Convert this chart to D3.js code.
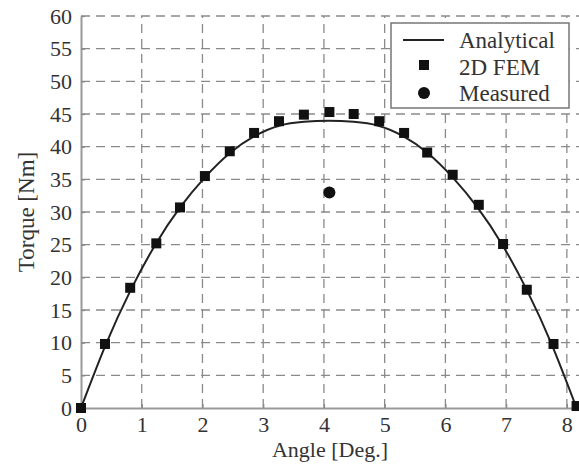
<!DOCTYPE html>
<html>
<head>
<meta charset="utf-8">
<script src="https://cdn.jsdelivr.net/npm/d3@7"></script>
<style>
    body { margin: 0; background: #fff; }
    text { font-family: "Liberation Serif", "Times New Roman", serif; fill: #333; }
</style>
</head>
<body>
<svg id="chart" width="579" height="464"></svg>
<script>
'use strict';

// tick values
const xTicks = [0, 1, 2, 3, 4, 5, 6, 7, 8];
const yTicks = [0, 5, 10, 15, 20, 25, 30, 35, 40, 45, 50, 55, 60];

// analytical curve
const angleAnalytical = [0, 0.408, 0.816, 1.224, 1.632, 2.04, 2.448, 2.856, 3.264, 3.672, 4.08,
    4.488, 4.896, 5.304, 5.712, 6.12, 6.528, 6.936, 7.344, 7.752, 8.16];
const torqueAnalytical = [0, 9.7, 18.0, 25.0, 30.7, 35.3, 39.0, 41.6, 43.2, 43.8, 43.95,
    43.8, 43.2, 41.6, 39.0, 35.3, 30.7, 25.0, 18.0, 9.7, 0];

// 2D FEM squares
const angleFem = [0, 0.395, 0.81, 1.24, 1.63, 2.04, 2.45, 2.85, 3.26, 3.67, 4.09,
    4.49, 4.91, 5.32, 5.70, 6.12, 6.55, 6.95, 7.34, 7.78, 8.16];
const torqueFem = [0, 9.8, 18.4, 25.2, 30.7, 35.5, 39.3, 42.1, 43.9, 44.9, 45.3,
    45.0, 43.9, 42.1, 39.1, 35.7, 31.1, 25.1, 18.1, 9.8, 0.3];

// measured point
const angleMeasured = [4.09];
const torqueMeasured = [33.0];

const legendLabels = ['Analytical', '2D FEM', 'Measured'];

const serif = '"Liberation Serif", "Times New Roman", serif';
const svg = d3.select('#chart');
const plotLeft = 81;
const plotRight = 579;
const plotTop = 16;
const plotBottom = 408;

const x = d3.scaleLinear().domain([0, 8.2]).range([plotLeft, plotRight]);
const y = d3.scaleLinear().domain([0, 60]).range([plotBottom, plotTop]);

const gridColor = '#8a8a8a';

// grid
const grid = svg.append('g');
grid.selectAll('.vgrid')
    .data(xTicks.slice(1))
    .enter()
    .append('line')
    .attr('x1', d => x(d))
    .attr('x2', d => x(d))
    .attr('y1', plotBottom)
    .attr('y2', plotTop)
    .attr('stroke', gridColor)
    .attr('stroke-width', 1.3)
    .attr('stroke-dasharray', '9,6');

grid.selectAll('.hgrid')
    .data(yTicks.slice(1))
    .enter()
    .append('line')
    .attr('x1', plotLeft)
    .attr('x2', plotRight)
    .attr('y1', d => y(d))
    .attr('y2', d => y(d))
    .attr('stroke', gridColor)
    .attr('stroke-width', 1.3)
    .attr('stroke-dasharray', '9,6');

// axes
const xAxis = d3.axisBottom(x).tickValues(xTicks).tickSizeInner(-4).tickSizeOuter(0).tickPadding(8);
const yAxis = d3.axisLeft(y).tickValues(yTicks).tickSizeInner(-4).tickSizeOuter(0).tickPadding(9);

const gx = svg.append('g').attr('transform', `translate(0,${plotBottom})`).call(xAxis);
const gy = svg.append('g').attr('transform', `translate(${plotLeft},0)`).call(yAxis);

[gx, gy].forEach((g) => {
    g.attr('font-family', serif).attr('font-size', 22);
    g.select('.domain').attr('stroke', '#999').attr('stroke-width', 2);
    g.selectAll('.tick line').attr('stroke', '#888').attr('stroke-width', 1.3);
    g.selectAll('.tick text')
        .attr('font-family', serif)
        .attr('font-size', 22)
        .attr('fill', '#333');
});
gx.selectAll('.tick text').attr('dy', '0.71em');

// axis titles
svg.append('text')
    .attr('x', (plotLeft + plotRight) / 2)
    .attr('y', 457)
    .attr('text-anchor', 'middle')
    .style('font-size', '22px')
    .text('Angle [Deg.]');

svg.append('text')
    .attr('transform', `translate(34,${(plotTop + plotBottom) / 2}) rotate(-90)`)
    .attr('text-anchor', 'middle')
    .style('font-size', '23px')
    .text('Torque [Nm]');

// analytical line
const line = d3.line()
    .x((d, i) => x(angleAnalytical[i]))
    .y(d => y(d))
    .curve(d3.curveNatural);

svg.append('path')
    .datum(torqueAnalytical)
    .attr('d', line)
    .attr('fill', 'none')
    .attr('stroke', '#222')
    .attr('stroke-width', 2);

// FEM squares
const sq = 10;
svg.selectAll('.fem')
    .data(torqueFem)
    .enter()
    .append('rect')
    .attr('x', (d, i) => x(angleFem[i]) - sq / 2)
    .attr('y', d => y(d) - sq / 2)
    .attr('width', sq)
    .attr('height', sq)
    .attr('fill', '#111');

// measured
svg.selectAll('.meas')
    .data(torqueMeasured)
    .enter()
    .append('circle')
    .attr('cx', (d, i) => x(angleMeasured[i]))
    .attr('cy', d => y(d))
    .attr('r', 6)
    .attr('fill', '#111');

// legend
const legend = svg.append('g').attr('transform', 'translate(391,23)');
legend.append('rect')
    .attr('width', 178)
    .attr('height', 85)
    .attr('fill', '#fff')
    .attr('stroke', '#777')
    .attr('stroke-width', 1.5);

legend.append('line')
    .attr('x1', 12).attr('x2', 53)
    .attr('y1', 17).attr('y2', 17)
    .attr('stroke', '#222')
    .attr('stroke-width', 2);
legend.append('rect')
    .attr('x', 33 - sq / 2).attr('y', 42 - sq / 2)
    .attr('width', sq).attr('height', sq)
    .attr('fill', '#111');
legend.append('circle')
    .attr('cx', 33).attr('cy', 70)
    .attr('r', 6)
    .attr('fill', '#111');

legend.selectAll('.lbl')
    .data(legendLabels)
    .enter()
    .append('text')
    .attr('x', 68)
    .attr('y', (d, i) => 25 + i * 26.5)
    .style('font-size', '23px')
    .text(d => d);
</script>
</body>
</html>
